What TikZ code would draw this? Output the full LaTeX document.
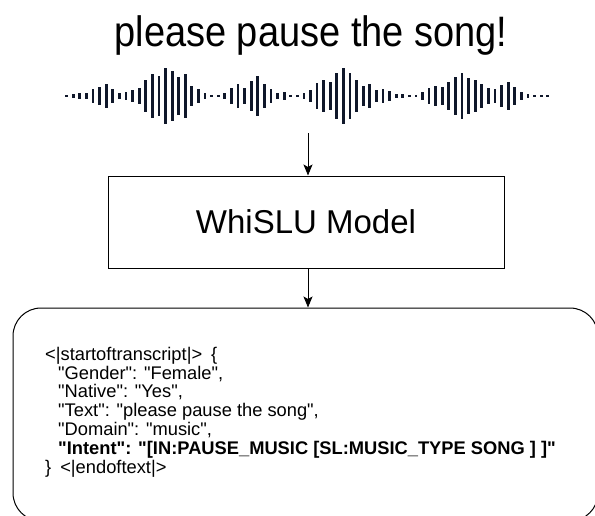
\documentclass[tikz,border=0pt]{standalone}
\usepackage{fontspec}
\setmainfont{Liberation Sans}[Ligatures=TeXOff]
\usepackage{graphicx}
\usepackage{tikz}
\usetikzlibrary{arrows.meta,positioning}

\definecolor{wavebar}{HTML}{0F172A}

\begin{document}
\begin{tikzpicture}[x=1pt, y=-1pt,
  flow/.style={draw=black, line width=0.9pt, -{Stealth[length=11pt, width=9pt, inset=2.5pt]}},
  modelbox/.style={draw=black, line width=1pt, minimum width=396pt, minimum height=92pt, font=\fontsize{33}{38}\selectfont},
  outbox/.style={draw=black, line width=1pt, rounded corners=28pt, minimum width=585pt, minimum height=213pt}]
\useasboundingbox (0,0) rectangle (595,515);

% Spoken request on top
\node[anchor=base, font=\fontsize{38}{44}\selectfont] (utter) at (311, 46) {\scalebox{1}[1.12]{please pause the song!}};

% Waveform of the request
\foreach \h [count=\i] in {1.2,1.8,3.3,3.3,7.8,10.8,14.5,8.8,4,4.5,
  6.7,9.7,18.3,25.8,23,33.3,29.7,22,26.3,12,
  8,3.3,1.2,1.2,3.7,9.7,13.7,9.5,17.2,23.3,
  13.8,8.3,3,4.5,1.2,1.5,3.7,7.5,15.5,18.3,
  17,27,33.3,27,18.3,11.7,14.2,7.5,8.8,5.5,
  2.7,2.2,1.5,1.5,4.5,9.2,12,10.7,17,22,
  27,21,18.7,14,9.2,7.8,13.3,16.2,10.5,5,
  2,1.5,1.5,1.2}
  \fill[wavebar] ({66.7+(\i-1)*6.589-1.4}, {96-0.85*\h}) rectangle ++(2.8, {1.7*\h});
\coordinate (wave) at (308, 133);

% Model
\node[modelbox] (model) at (306, 222) {WhiSLU Model};

% Output tokens
\node[outbox] (out) at (305.5, 414.5) {};
\node[anchor=west, align=left, inner sep=0pt, font=\fontsize{18.3}{18.8}\selectfont] (tokens) at (45, 412)
  {<|startoftranscript|>\hspace{9pt}\{\\
   \hspace*{13pt}"Gender": "Female",\\
   \hspace*{13pt}"Native": "Yes",\\
   \hspace*{13pt}"Text": "please pause the song",\\
   \hspace*{13pt}"Domain": "music",\\
   \hspace*{13pt}\textbf{"Intent": "[IN:PAUSE\_MUSIC [SL:MUSIC\_TYPE SONG ] ]"}\\
   \}\hspace{9pt}<|endoftext|>};

\draw[flow] (wave) -- (wave |- model.north);
\draw[flow] (wave |- model.south) -- (wave |- out.north);

\end{tikzpicture}
\end{document}
